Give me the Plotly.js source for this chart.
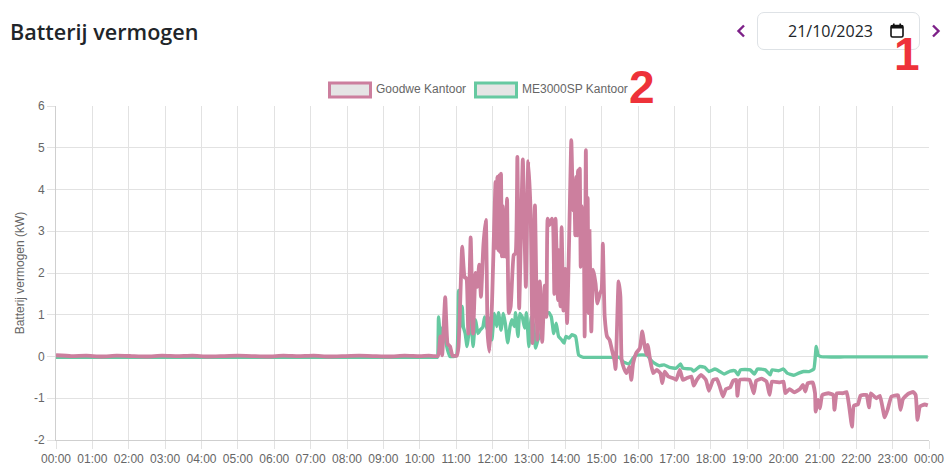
<!DOCTYPE html>
<html>
<head>
<meta charset="utf-8">
<script src="https://cdn.plot.ly/plotly-3.0.1.min.js"></script>
<style>
html,body{margin:0;padding:0;background:#fff;width:952px;height:469px;overflow:hidden}
#chart{position:absolute;left:0;top:0;width:952px;height:469px;z-index:2}
#datebox{position:absolute;left:757px;top:12px;width:161px;height:36px;border:1px solid #dee2e6;border-radius:7px;z-index:1;background:#fff}
#datetext{position:absolute;left:30px;top:7px;font:16px "Open Sans",sans-serif;color:#212529;letter-spacing:0}
#cal{position:absolute;left:132px;top:10px}
.nav{position:absolute;top:24px;z-index:1}
</style>
</head>
<body>
<svg class="nav" style="left:736px" width="10" height="14" viewBox="0 0 10 14"><path d="M8 1.5 L2.5 7 L8 12.5" fill="none" stroke="#7d2088" stroke-width="2.4"/></svg>
<svg class="nav" style="left:931px" width="10" height="14" viewBox="0 0 10 14"><path d="M2 1.5 L7.5 7 L2 12.5" fill="none" stroke="#7d2088" stroke-width="2.4"/></svg>
<div id="datebox"><span id="datetext">21/10/2023</span>
<svg id="cal" width="14" height="15" viewBox="0 0 14 15"><rect x="1" y="2.5" width="12" height="11.5" rx="1.5" fill="none" stroke="#111" stroke-width="1.6"/><rect x="1" y="2.5" width="12" height="3" fill="#111"/><rect x="3" y="0.5" width="1.6" height="3" fill="#111"/><rect x="9.4" y="0.5" width="1.6" height="3" fill="#111"/></svg>
</div>
<div id="chart"></div>
<script>
const pageTitle = "Batterij vermogen";
const yTitle = "Batterij vermogen (kW)";
const seriesNames = ["Goodwe Kantoor", "ME3000SP Kantoor"];
const tickMinutes = [0,60,120,180,240,300,360,420,480,540,600,660,720,780,840,900,960,1020,1080,1140,1200,1260,1320,1380,1440];
const tickLabels = ["00:00","01:00","02:00","03:00","04:00","05:00","06:00","07:00","08:00","09:00","10:00","11:00","12:00","13:00","14:00","15:00","16:00","17:00","18:00","19:00","20:00","21:00","22:00","23:00","00:00"];

const goodweMinutes = [0,25,50,75,100,125,150,175,200,225,250,275,300,325,350,375,400,425,450,475,500,525,550,575,600,615,630,634,637,642,646,650,654,661,664,670,674,677,680,684,688,692,695,698,701,705,709,712,715,719,725,726.5,728,729.5,731,732.5,734,735.5,737,738.5,740,741.5,744,747,750,755,758,761,764,770,775,779,783,786,790,794,798,802,806,809,811,814,818,820,822,824,828,829,832,834,837,840,843,847,850,853,855,856.5,858,859.5,861,862.5,864,865.5,867,869,870.5,872,874,875.5,877,878.5,880,881.5,883,886,890,893,897,900,902,905,909,913,917,921,923,925,928,931,933,937,941,946,949,952,957,963,967,971,974,976,980,985,991,997,1000,1004,1010,1018,1023,1029,1034,1040,1048,1052,1057,1064,1072,1077,1084,1090,1095,1100,1105,1112,1117,1122,1124,1128,1144,1151,1155,1164,1172,1177,1181,1194,1200,1203,1210,1218,1227,1232,1236,1240,1248,1252,1253,1257,1260,1264,1274,1282,1284,1288,1298,1304,1308,1313,1316,1323,1327,1337,1341,1344,1353,1359,1367,1372,1378,1389,1393,1397,1405,1414,1418,1421,1425,1433,1438];
const goodweValues = [0.03,0.01,0.02,0,0.02,0.01,0,0.02,0.01,0.02,0,0.01,0.02,0.01,0,0.02,0.01,0.02,0,0.01,0.02,0.01,0,0.02,0.01,0.02,0.01,0.48,0.03,1.42,0.3,0.24,0.02,0.02,0.24,2.63,1.9,1.87,0.55,2.85,0.55,2.0,1.67,2.2,1.43,2.67,3.27,0.55,0.12,1.2,4.18,2.6,4.3,2.55,4.34,2.5,4.38,2.4,3.6,2.4,3.5,2.39,3.78,1.04,1.2,2.43,2.47,4.78,1.15,4.72,1.67,4.68,3.4,0.32,3.62,0.4,1.8,0.35,1.7,0.95,3.3,3.15,3.3,3.15,1.5,3.3,1.35,2.55,1.2,3.1,1.1,2.1,0.8,3.2,5.18,3.5,4.05,2.9,4.3,2.9,4.46,3.0,4.5,2.15,3.6,2.6,3.3,0.48,4.94,2.2,3.8,1.04,3.0,1.5,0.6,2.08,1.75,1.27,1.5,1.6,2.7,0.96,0.48,0.4,0.16,-0.08,-0.3,0.5,1.8,1.43,-0.08,-0.29,-0.4,-0.24,-0.56,-0.16,0.08,0.2,0.6,0.24,0.04,0.28,-0.08,-0.4,-0.32,-0.4,-0.64,-0.36,-0.48,-0.52,-0.56,-0.32,-0.56,-0.52,-0.48,-0.7,-0.56,-0.44,-0.56,-0.82,-0.56,-0.54,-0.72,-0.96,-0.78,-0.74,-0.58,-0.56,-0.94,-0.56,-0.56,-0.88,-0.58,-0.53,-0.6,-0.92,-0.6,-0.62,-0.6,-0.88,-0.78,-0.86,-0.78,-0.68,-0.84,-0.64,-0.62,-0.88,-1.32,-1.04,-1.24,-0.92,-0.88,-0.92,-1.28,-0.88,-0.88,-0.85,-1.16,-1.68,-1.18,-1.14,-0.94,-0.92,-1.22,-0.88,-1.0,-0.94,-1.46,-1.26,-0.96,-0.93,-1.28,-1.02,-0.9,-0.85,-0.92,-1.52,-1.2,-1.15,-1.17];

const meMinutes = [0,150,300,450,600,620,626,629,631,634,636,639,642,646,650,657,661,664,666,670,672,675,678,682,684,688,692,696,700,704,707,711,715,719,723,727,730,734,738,741,745,749,752,756,758,762,765,769,773,776,780,784,788,791,795,799,803,808,813,817,821,825,829,834,838,841,846,851,857,862,866,870,880,900,920,930,935,945,952,957,975,981,987,995,1003,1012,1023,1030,1034,1048,1052,1062,1070,1077,1087,1095,1102,1112,1120,1125,1129,1145,1152,1157,1170,1178,1181,1192,1200,1206,1217,1225,1233,1242,1250,1254,1257,1261,1270,1300,1350,1400,1438];
const meValues = [-0.02,-0.02,-0.02,-0.02,-0.02,-0.02,-0.02,-0.02,0.95,0.48,0.68,0.48,0.4,0.15,0,0,0.04,1.58,0.68,1.2,0.7,0.55,0.24,0.7,0.95,0.24,0.88,0.55,0.64,0.7,0.95,0.64,0.92,0.4,1.03,0.72,1.05,0.63,1.03,0.8,0.33,0.72,0.88,0.72,1.05,0.48,1.03,0.95,0.68,1.05,0.24,0.95,0.72,0.2,0.4,0.48,0.88,1.02,1.05,0.95,0.55,0.8,0.48,0.4,0.32,0.48,0.44,0.52,0.48,0.04,0,-0.02,-0.02,-0.02,-0.02,-0.02,-0.12,-0.18,-0.04,0.03,0.03,-0.08,-0.16,-0.22,-0.2,-0.26,-0.28,-0.18,-0.28,-0.3,-0.35,-0.24,-0.26,-0.36,-0.3,-0.36,-0.42,-0.35,-0.34,-0.44,-0.32,-0.32,-0.42,-0.3,-0.32,-0.44,-0.32,-0.34,-0.3,-0.4,-0.45,-0.4,-0.36,-0.36,-0.3,0.24,0.04,0,-0.01,-0.01,-0.01,-0.01,-0.01];

const pink = "#cc7f9e", green = "#66c9a1", textGrey = "#666666", grid = "#e2e2e2";
const L = 56, T = 106, W = 873, H = 334;
const px = v => (v - L) / W, py = v => (T + H - v) / H;

function swatch(x0, color){
  return {type:"rect", xref:"paper", yref:"paper", x0:px(x0), x1:px(x0+41), y0:py(97), y1:py(83),
          line:{color:color,width:3}, fillcolor:"#e5e5e5"};
}
const annotations = [
  {text:seriesNames[0], xref:"paper", yref:"paper", x:px(376), y:py(89), xanchor:"left", yanchor:"middle", showarrow:false, xshift:-2, font:{family:"Liberation Sans",size:12,color:textGrey}},
  {text:seriesNames[1], xref:"paper", yref:"paper", x:px(522), y:py(89), xanchor:"left", yanchor:"middle", showarrow:false, xshift:-2, font:{family:"Liberation Sans",size:12,color:textGrey}},
  {text:"1", xref:"paper", yref:"paper", x:px(907), y:py(54), xanchor:"center", yanchor:"middle", showarrow:false, font:{family:"Liberation Sans",size:46,weight:700,color:"#ee3239"}},
  {text:"2", xref:"paper", yref:"paper", x:px(642), y:py(87), xanchor:"center", yanchor:"middle", showarrow:false, font:{family:"Liberation Sans",size:46,weight:700,color:"#ee3239"}}
];
const traces = [
  {x:meMinutes, y:meValues, name:seriesNames[1], mode:"lines", line:{color:green,width:3.4,shape:"spline",smoothing:0.4}, hoverinfo:"skip"},
  {x:goodweMinutes, y:goodweValues, name:seriesNames[0], mode:"lines", line:{color:pink,width:3.8,shape:"spline",smoothing:0.4}, hoverinfo:"skip"}
];
const layout = {
  width:952, height:469, showlegend:false,
  paper_bgcolor:"rgba(0,0,0,0)", plot_bgcolor:"rgba(0,0,0,0)",
  margin:{l:L, r:952-L-W, t:T, b:469-T-H, pad:0},
  title:{text:pageTitle, x:10/952, xref:"container", xanchor:"left", y:1-32/469, yref:"container", yanchor:"middle",
         font:{family:"Open Sans",size:21.6,weight:600,color:"#212529"}},
  font:{family:"Liberation Sans",size:12,color:textGrey},
  xaxis:{range:[0,1440], tickmode:"array", tickvals:tickMinutes, ticktext:tickLabels, tickangle:0,
         ticks:"outside", ticklen:8, tickwidth:1, tickcolor:grid, gridcolor:grid, gridwidth:1,
         showline:true, linecolor:"#cfcfcf", linewidth:1, zeroline:false, automargin:false,
         tickfont:{family:"Liberation Sans",size:12,color:textGrey}},
  yaxis:{range:[-2,6], tickmode:"array", tickvals:[-2,-1,0,1,2,3,4,5,6], ticktext:["-2","-1","0","1","2","3","4","5","6"],
         ticks:"outside", ticklen:8, tickwidth:1, tickcolor:grid, gridcolor:grid, gridwidth:1,
         showline:true, linecolor:"#cfcfcf", linewidth:1, zeroline:false, automargin:false,
         title:{text:yTitle, standoff:6, font:{family:"Liberation Sans",size:12,color:textGrey}},
         tickfont:{family:"Liberation Sans",size:12,color:textGrey}},
  shapes:[swatch(329.5,pink), swatch(475.5,green)],
  annotations:annotations
};
Plotly.newPlot("chart", traces, layout, {displayModeBar:false, responsive:false, staticPlot:true});
</script>
</body>
</html>
